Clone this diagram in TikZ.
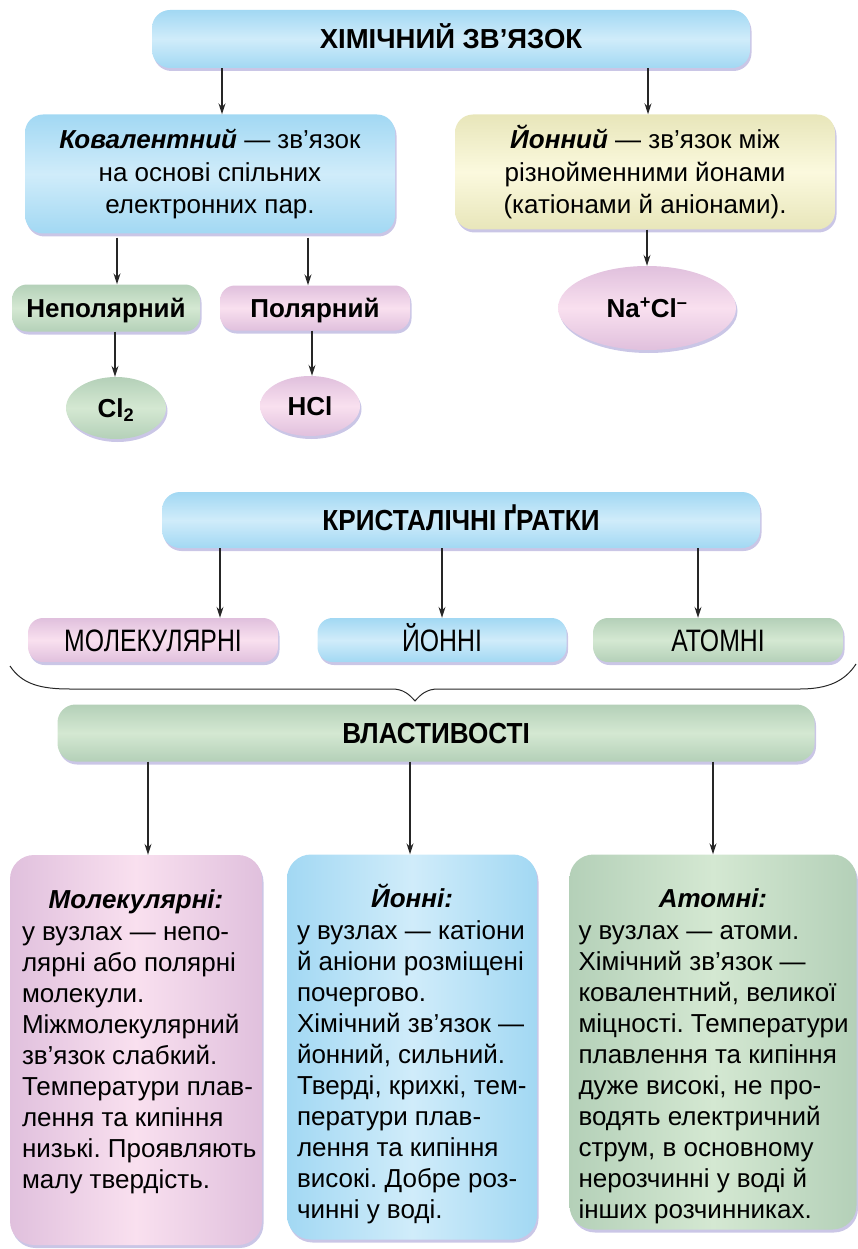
\documentclass[tikz,border=0pt]{standalone}
\usepackage{fontspec}
\setmainfont{Liberation Sans}
\newfontfamily\narrowfont[FakeStretch=0.8]{Liberation Sans}
\newfontfamily\headfont[FakeStretch=0.9]{Liberation Sans}
\usetikzlibrary{positioning,arrows.meta,shapes.geometric,shadows}

\definecolor{bluemid}{RGB}{208,236,250}
\definecolor{blueedge}{RGB}{162,216,243}
\definecolor{greenmid}{RGB}{212,232,210}
\definecolor{greenedge}{RGB}{180,208,184}
\definecolor{pinkmid}{RGB}{249,224,239}
\definecolor{pinkedge}{RGB}{224,192,221}
\definecolor{yellowmid}{RGB}{251,249,222}
\definecolor{yellowedge}{RGB}{232,230,186}
\definecolor{shadowc}{RGB}{138,128,200}

\begin{document}
\frenchspacing
\begin{tikzpicture}[x=1pt, y=-1pt,
  arr/.style={-{Stealth[length=11pt,width=7pt]}, line width=1.3pt, draw=black!85},
  basebox/.style={rounded corners=18pt, inner sep=0pt, drop shadow={shadow xshift=1.5pt, shadow yshift=-3pt, fill=shadowc, opacity=.45}},
  bluebox/.style={basebox, top color=blueedge, bottom color=blueedge, middle color=bluemid},
  greenbox/.style={basebox, top color=greenedge, bottom color=greenedge, middle color=greenmid},
  pinkbox/.style={basebox, top color=pinkedge, bottom color=pinkedge, middle color=pinkmid},
  yellowbox/.style={basebox, top color=yellowedge, bottom color=yellowedge, middle color=yellowmid},
  oval/.style={ellipse, inner sep=0pt, drop shadow={shadow xshift=1.5pt, shadow yshift=-3pt, fill=shadowc, opacity=.45}},
  greenoval/.style={oval, top color=greenedge, bottom color=greenedge, middle color=greenmid},
  pinkoval/.style={oval, top color=pinkedge, bottom color=pinkedge, middle color=pinkmid},
  tall/.style={rounded corners=24pt, left color=#1edge, right color=#1edge, middle color=#1mid},
  head/.style={font=\headfont\fontsize{29}{30}\selectfont\bfseries, text height=20.5pt, text depth=0pt},
  lbl/.style={font=\fontsize{26}{30}\selectfont\bfseries, text height=18.5pt, text depth=0pt},
  kind/.style={font=\narrowfont\fontsize{31}{32}\selectfont, text height=22pt, text depth=0pt},
  defn/.style={align=center, font=\fontsize{26}{32.5}\selectfont},
  ttl/.style={font=\fontsize{26}{31}\selectfont\bfseries\itshape, inner sep=0pt, text height=19pt, text depth=0pt},
  body/.style={align=left, font=\fontsize{26}{31}\selectfont, inner sep=0pt}
]
\useasboundingbox (0,0) rectangle (858,1249);

% chemical bond
\node[bluebox, font=\fontsize{27.5}{30}\selectfont\bfseries, text height=20pt, text depth=0pt,
  minimum width=598pt, minimum height=58pt] (chem) at (451,39) {ХІМІЧНИЙ ЗВ’ЯЗОК};
\node[bluebox, defn, minimum width=370pt, minimum height=119pt] (cov) at (210,174)
  {\textbf{\textit{Ковалентний}} — зв’язок\\на основі спільних\\електронних пар.};
\node[yellowbox, defn, minimum width=380pt, minimum height=115pt] (ion) at (645,172)
  {\textbf{\textit{Йонний}} — зв’язок між\\різнойменними йонами\\(катіонами й аніонами).};
\node[greenbox, lbl, rounded corners=15pt, minimum width=188pt, minimum height=47pt] (nonpol) at (106,308) {Неполярний};
\node[pinkbox, lbl, rounded corners=15pt, minimum width=190pt, minimum height=45pt] (pol) at (315,308) {Полярний};
\node[greenoval, lbl, minimum width=100pt, minimum height=62pt] (cl2) at (116,408) {Cl\textsubscript{2}};
\node[pinkoval, lbl, minimum width=100pt, minimum height=60pt] (hcl) at (310,406) {HCl};
\node[pinkoval, lbl, minimum width=178pt, minimum height=84pt] (nacl) at (647,308) {Na\textsuperscript{+}Cl\textsuperscript{–}};

\draw[arr] ([xshift=12pt]cov.north |- chem.south) -- ([xshift=12pt]cov.north);
\draw[arr] ([xshift=3pt]ion.north |- chem.south) -- ([xshift=3pt]ion.north);
\draw[arr] ([xshift=11pt,yshift=-4pt]nonpol.north |- cov.south) -- ([xshift=11pt]nonpol.north);
\draw[arr] ([xshift=-7pt,yshift=-4pt]pol.north |- cov.south) -- ([xshift=-7pt]pol.north);
\draw[arr] ([xshift=-1pt]cl2.north |- nonpol.south) -- ([xshift=-1pt]cl2.north);
\draw[arr] ([xshift=2pt]hcl.north |- pol.south) -- ([xshift=2pt]hcl.north);
\draw[arr] (ion.south -| nacl.north) -- (nacl.north);

% crystal lattices
\node[bluebox, head, minimum width=598pt, minimum height=56pt] (cryst) at (461,520) {КРИСТАЛІЧНІ ҐРАТКИ};
\node[pinkbox, kind, rounded corners=15pt, minimum width=250pt, minimum height=44pt] (mol) at (153,640) {МОЛЕКУЛЯРНІ};
\node[bluebox, kind, rounded corners=15pt, minimum width=249pt, minimum height=44pt] (ionl) at (442,640) {ЙОННІ};
\node[greenbox, kind, rounded corners=15pt, minimum width=250pt, minimum height=44pt] (atom) at (718,640) {АТОМНІ};

\draw[arr] ([xshift=67pt]mol.north |- cryst.south) -- ([xshift=67pt]mol.north);
\draw[arr] (ionl.north |- cryst.south) -- (ionl.north);
\draw[arr] ([xshift=-20pt]atom.north |- cryst.south) -- ([xshift=-20pt]atom.north);

\draw[line width=1pt, black!85] (10,666) .. controls (22,684) and (40,689) .. (70,689) -- (392,689)
  .. controls (403,689) and (409,694) .. (415,701) .. controls (421,694) and (427,689) .. (438,689)
  -- (800,689) .. controls (828,689) and (845,681) .. (856,664);

% properties
\node[greenbox, head, minimum width=757pt, minimum height=57pt] (props) at (436,733) {ВЛАСТИВОСТІ};
\node[pinkbox, tall=pink, minimum width=252pt, minimum height=390pt] (molp) at (136,1050) {};
\node[bluebox, tall=blue, minimum width=250pt, minimum height=385pt] (ionp) at (412,1047) {};
\node[greenbox, tall=green, minimum width=287pt, minimum height=375pt] (atomp) at (713,1042) {};

\draw[arr] ([xshift=12pt]molp.north |- props.south) -- ([xshift=12pt]molp.north);
\draw[arr] ([xshift=-2pt]ionp.north |- props.south) -- ([xshift=-2pt]ionp.north);
\draw[arr] (atomp.north |- props.south) -- (atomp.north);

\node[ttl, below=34pt of molp.north] (molt) {Молекулярні:};
\node[body, below right=65pt and 12pt of molp.north west] (molb)
  {\rule{0pt}{20pt}у вузлах — непо-\\лярні або полярні\\молекули.\\Міжмолекулярний\\зв’язок слабкий.\\Температури плав-\\лення та кипіння\\низькі. Проявляють\\малу твердість.};
\node[ttl, below=34pt of ionp.north] (iont) {Йонні:};
\node[body, below right=65pt and 10pt of ionp.north west] (ionb)
  {\rule{0pt}{20pt}у вузлах — катіони\\й аніони розміщені\\почергово.\\Хімічний зв’язок —\\йонний, сильний.\\Тверді, крихкі, тем-\\ператури плав-\\лення та кипіння\\високі. Добре роз-\\чинні у воді.};
\node[ttl, below=34pt of atomp.north] (atomt) {Атомні:};
\node[body, below right=65pt and 9pt of atomp.north west] (atomb)
  {\rule{0pt}{20pt}у вузлах — атоми.\\Хімічний зв’язок —\\ковалентний, великої\\міцності. Температури\\плавлення та кипіння\\дуже високі, не про-\\водять електричний\\струм, в основному\\нерозчинні у воді й\\інших розчинниках.};

\end{tikzpicture}
\end{document}
